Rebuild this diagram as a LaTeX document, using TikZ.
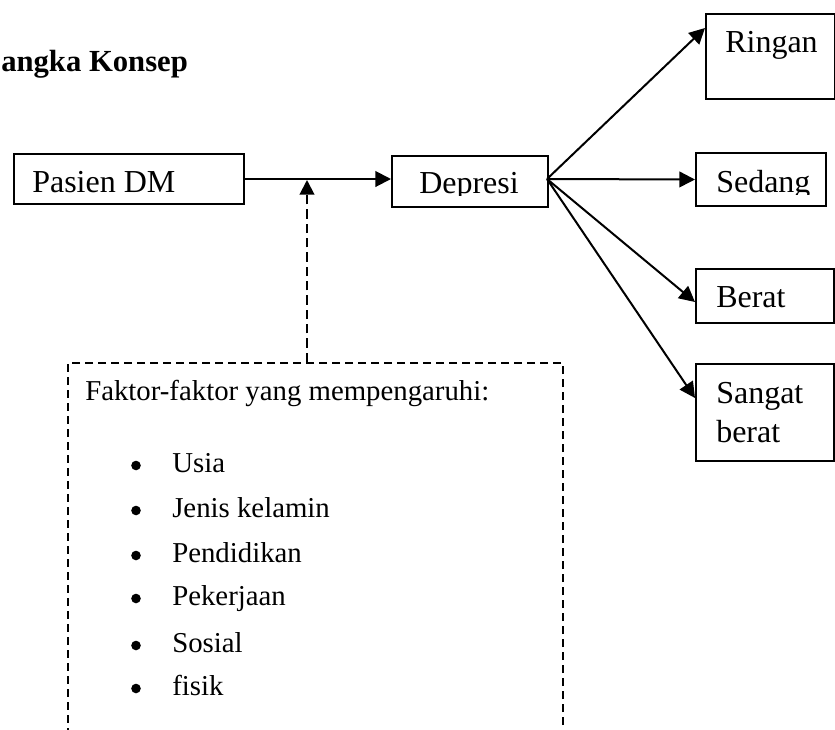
\documentclass[tikz,border=0pt]{standalone}
\usepackage{fontspec}
\setmainfont{Liberation Serif}
\usetikzlibrary{arrows.meta}
\begin{document}
\begin{tikzpicture}[x=0.75pt,y=-0.75pt,
  box/.style={draw=black, line width=1.5pt, anchor=north west, inner sep=0pt},
  boxtext/.style={anchor=base west, inner sep=0pt, font=\fontsize{24}{28}\selectfont},
  listtext/.style={anchor=base west, inner sep=0pt, font=\fontsize{21.6}{25}\selectfont},
  bul/.style={circle, fill=black, inner sep=0pt, minimum size=7.2pt},
  arr/.style={line width=1.5pt, -{Triangle[length=11.75pt,width=11.75pt]}},
  darr/.style={line width=1.5pt, dash pattern=on 7pt off 3.75pt, -{Triangle[length=11pt,width=11pt]}},
  dbox/.style={draw=black, line width=1.5pt, dash pattern=on 6pt off 3.75pt, anchor=north west, inner sep=0pt}]
\useasboundingbox (0,0) rectangle (835,729);
% title
\node[anchor=base west, inner sep=0pt, font=\fontsize{23}{27}\selectfont\bfseries] (title) at (1,71) {angka Konsep};
% boxes
\node[box, minimum width=172.5pt, minimum height=37.5pt] (pasien) at (13,153) {};
\node[box, minimum width=117pt, minimum height=38.25pt] (depresi) at (391,155) {};
\node[box, minimum width=96.75pt, minimum height=63.75pt] (ringan) at (705,13) {};
\node[box, minimum width=97.5pt, minimum height=39.75pt] (sedang) at (695,152) {};
\node[box, minimum width=103.5pt, minimum height=40.5pt] (berat) at (695,268) {};
\node[box, minimum width=103.5pt, minimum height=72.75pt] (sangat) at (695,363) {};
\node[dbox, minimum width=371.25pt, minimum height=300pt] (faktor) at (67,362) {};
% texts
\node[boxtext] (tpasien) at (32,192) {Pasien DM};
\begin{scope}
\clip (391,155) rectangle (547,195);
\node[boxtext] (tdepresi) at (419,193) {Depresi};
\end{scope}
\node[boxtext] (tringan) at (725,52) {Ringan};
\begin{scope}
\clip (695,152) rectangle (825,194);
\node[boxtext] (tsedang) at (716,192) {Sedang};
\end{scope}
\node[boxtext] (tberat) at (716,307) {Berat};
\node[boxtext] (tsangat) at (716,403) {Sangat};
\node[boxtext] (tsberat) at (716,442) {berat};
\node[listtext] (tfaktor) at (85,400) {Faktor-faktor yang mempengaruhi:};
\node[bul] (b1) at (136,465.5) {};
\node[listtext] (i1) at (172,472) {Usia};
\node[bul] (b2) at (136,510.5) {};
\node[listtext] (i2) at (172,517) {Jenis kelamin};
\node[bul] (b3) at (136,555.5) {};
\node[listtext] (i3) at (172,562) {Pendidikan};
\node[bul] (b4) at (136,598.5) {};
\node[listtext] (i4) at (172,605) {Pekerjaan};
\node[bul] (b5) at (136,645.5) {};
\node[listtext] (i5) at (172,652) {Sosial};
\node[bul] (b6) at (136,688.5) {};
\node[listtext] (i6) at (172,695) {fisik};
% connectors
\coordinate (dout) at (547,179);
\draw[arr] (pasien.east) -- (pasien.east -| depresi.west);
\draw[arr] (dout) -- ([yshift=-11.25pt]ringan.north west);
\draw[arr] (dout) -- (sedang.west);
\draw[arr] (dout) -- ([yshift=-25.5pt]berat.north west);
\draw[arr] (dout) -- ([yshift=-26.25pt]sangat.north west);
\coordinate (fk) at ([xshift=180pt]faktor.north west);
\draw[darr] (fk) -- ([yshift=-0.75pt]fk |- pasien.east);
\end{tikzpicture}
\end{document}
